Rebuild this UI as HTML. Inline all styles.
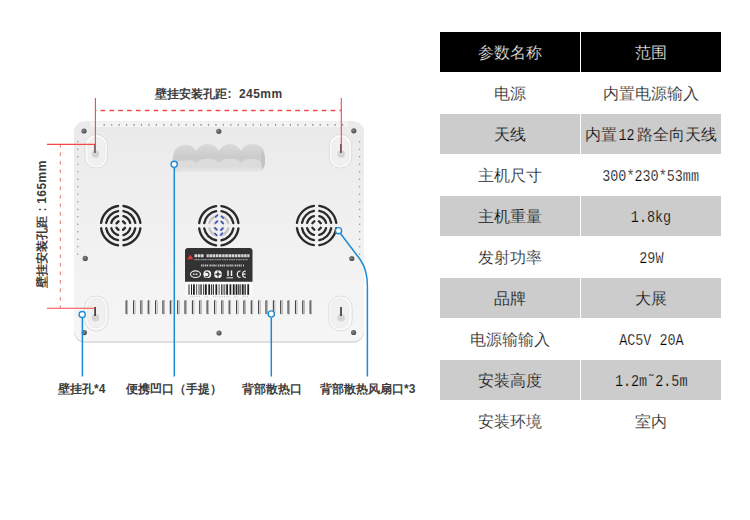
<!DOCTYPE html>
<html><head><meta charset="utf-8">
<style>
html,body{margin:0;padding:0;background:#fff;width:750px;height:520px;overflow:hidden;position:relative}
*{box-sizing:border-box}
.tb{position:absolute;left:440px;top:32px;width:281px}
.r{position:absolute;left:0;width:281px;height:40px}
.c{position:absolute;top:0;height:40px;width:140px;line-height:42px;-webkit-text-stroke:0.25px #fff;text-align:center;font-family:"Liberation Sans",sans-serif;font-size:16px;font-weight:300;color:#000;white-space:nowrap}
.c1{left:0}.c2{left:141px}
.h .c{background:#000;color:#fff;-webkit-text-stroke:0.25px #000}
.g .c{background:#cccccc;-webkit-text-stroke:0.25px #ccc}
.m{font-family:"Liberation Mono",monospace;display:inline-block;transform:scaleX(.84);transform-origin:50% 50%}
.lbl{position:absolute;font-family:"Liberation Sans",sans-serif;font-size:12px;font-weight:bold;color:#3c3c3c;white-space:nowrap;line-height:14px}
svg{position:absolute;left:0;top:0}
</style></head><body>
<svg width="420" height="520" viewBox="0 0 420 520">
<defs>
<linearGradient id="bd" x1="0" y1="0" x2="0" y2="1">
<stop offset="0" stop-color="#eaeaea"/><stop offset="0.45" stop-color="#f0f0f0"/><stop offset="1" stop-color="#f6f6f6"/>
</linearGradient>
<linearGradient id="hd" x1="0" y1="0" x2="0" y2="1">
<stop offset="0" stop-color="#d9d9d9"/><stop offset="0.5" stop-color="#cbcbcb"/><stop offset="1" stop-color="#d6d6d6"/>
</linearGradient>
<radialGradient id="sc" cx="0.4" cy="0.4" r="0.6">
<stop offset="0" stop-color="#888"/><stop offset="1" stop-color="#4a4a4a"/>
</radialGradient>
</defs>
<!-- device -->
<rect x="74" y="121.5" width="290" height="221.2" rx="11" fill="#d6d6d6"/>
<rect x="74" y="121.5" width="290" height="219.8" rx="11" fill="url(#bd)"/>
<!-- handle -->
<path d="M177 171.3 Q172.5 171.3 172.7 165 L172.8 158 Q173 150 179 146.5 Q185 143.5 191 146 Q194.5 148 196.2 151 Q200 144 207.5 144 Q215 144 219 151 Q223 144 230 144 Q237 144 241 151 Q245 144 252 144 Q260 144 263.5 150 Q265.2 154 265 162 Q265 171.3 258 171.3 Z" fill="url(#hd)"/>
<path d="M179 171 Q175 171 175.5 166 Q178 160 185 161 Q191 158 196 163 Q201 158 207.5 159 Q214 158 219 163 Q224 158 230 159 Q237 158 241 163 Q246 158 252 159 Q259 159 262 164 Q263 171 257 171 Z" fill="#dcdcdc"/>
<path d="M181 171.2 Q177 171 177 169 Q190 167 220 168 Q250 167 262 168.5 Q262 171.2 256 171.2 Z" fill="#e2e2e2"/>
<path d="M262 150 Q265.5 155 265 162 Q264.5 168 262 169 Q260 160 262 150 Z" fill="#bdbdbd" opacity=".7"/>
<!-- holes -->
<g fill="#fafafa" stroke="#d9d9d9" stroke-width="0.9">
<rect x="85" y="134.4" width="22.4" height="33.6" rx="11"/>
<rect x="329.3" y="134.4" width="22.4" height="33.6" rx="11"/>
<rect x="84.6" y="296" width="23.4" height="35" rx="11.5"/>
<rect x="328.8" y="296" width="23.4" height="35" rx="11.5"/>
</g>
<g fill="#f0f0f0" stroke="#e6e6e6" stroke-width="0.7">
<rect x="88" y="137.7" width="17" height="27.8" rx="8.5"/>
<rect x="332" y="137.7" width="17" height="27.8" rx="8.5"/>
<rect x="87.5" y="298.5" width="17.5" height="29.5" rx="8.7"/>
<rect x="331.3" y="298.5" width="17.5" height="29.5" rx="8.7"/>
</g>
<g fill="#d4d4d4">
<circle cx="95.5" cy="154" r="3.8"/><circle cx="341.1" cy="154" r="3.8"/>
<circle cx="95.5" cy="317.7" r="3.8"/><circle cx="341.1" cy="317.7" r="3.8"/>
</g>
<g fill="#333">
<rect x="94.3" y="144" width="1.6" height="9"/><rect x="340.2" y="144" width="1.6" height="9"/>
<rect x="94.3" y="307" width="1.6" height="9"/><rect x="340.2" y="307" width="1.6" height="9"/>
</g>
<!-- screws -->
<g fill="url(#sc)">
<circle cx="84" cy="131" r="2.6"/><circle cx="353.8" cy="130.8" r="2.6"/>
<circle cx="218.8" cy="131.3" r="2.6"/>
<circle cx="85.2" cy="258.4" r="2.6"/><circle cx="351.8" cy="258.5" r="2.6"/>
<circle cx="84.3" cy="332.6" r="2.6"/><circle cx="353.6" cy="332.5" r="2.6"/>
<circle cx="219" cy="333" r="2.6"/>
</g>
<path d="M90 121.5 H348 V127 H90 Z" fill="#f5f5f5" opacity=".8"/>
<g fill="#9a9a9a"><rect x="103.65" y="123.8" width="1.1" height="2.2" rx="0.5"/><rect x="111.10" y="123.8" width="1.1" height="2.2" rx="0.5"/><rect x="118.55" y="123.8" width="1.1" height="2.2" rx="0.5"/><rect x="126.00" y="123.8" width="1.1" height="2.2" rx="0.5"/><rect x="133.45" y="123.8" width="1.1" height="2.2" rx="0.5"/><rect x="140.90" y="123.8" width="1.1" height="2.2" rx="0.5"/><rect x="148.35" y="123.8" width="1.1" height="2.2" rx="0.5"/><rect x="155.80" y="123.8" width="1.1" height="2.2" rx="0.5"/><rect x="163.25" y="123.8" width="1.1" height="2.2" rx="0.5"/><rect x="170.70" y="123.8" width="1.1" height="2.2" rx="0.5"/><rect x="178.15" y="123.8" width="1.1" height="2.2" rx="0.5"/><rect x="185.60" y="123.8" width="1.1" height="2.2" rx="0.5"/><rect x="193.05" y="123.8" width="1.1" height="2.2" rx="0.5"/><rect x="200.50" y="123.8" width="1.1" height="2.2" rx="0.5"/><rect x="207.95" y="123.8" width="1.1" height="2.2" rx="0.5"/><rect x="215.40" y="123.8" width="1.1" height="2.2" rx="0.5"/><rect x="222.85" y="123.8" width="1.1" height="2.2" rx="0.5"/><rect x="230.30" y="123.8" width="1.1" height="2.2" rx="0.5"/><rect x="237.75" y="123.8" width="1.1" height="2.2" rx="0.5"/><rect x="245.20" y="123.8" width="1.1" height="2.2" rx="0.5"/><rect x="252.65" y="123.8" width="1.1" height="2.2" rx="0.5"/><rect x="260.10" y="123.8" width="1.1" height="2.2" rx="0.5"/><rect x="267.55" y="123.8" width="1.1" height="2.2" rx="0.5"/><rect x="275.00" y="123.8" width="1.1" height="2.2" rx="0.5"/><rect x="282.45" y="123.8" width="1.1" height="2.2" rx="0.5"/><rect x="289.90" y="123.8" width="1.1" height="2.2" rx="0.5"/><rect x="297.35" y="123.8" width="1.1" height="2.2" rx="0.5"/><rect x="304.80" y="123.8" width="1.1" height="2.2" rx="0.5"/><rect x="312.25" y="123.8" width="1.1" height="2.2" rx="0.5"/><rect x="319.70" y="123.8" width="1.1" height="2.2" rx="0.5"/><rect x="327.15" y="123.8" width="1.1" height="2.2" rx="0.5"/><rect x="334.60" y="123.8" width="1.1" height="2.2" rx="0.5"/><rect x="342.05" y="123.8" width="1.1" height="2.2" rx="0.5"/><circle cx="77.8" cy="141.70" r="0.8"/><circle cx="359.6" cy="141.70" r="0.8"/><circle cx="77.8" cy="149.20" r="0.8"/><circle cx="359.6" cy="149.20" r="0.8"/><circle cx="77.8" cy="156.70" r="0.8"/><circle cx="359.6" cy="156.70" r="0.8"/><circle cx="77.8" cy="164.20" r="0.8"/><circle cx="359.6" cy="164.20" r="0.8"/><circle cx="77.8" cy="171.70" r="0.8"/><circle cx="359.6" cy="171.70" r="0.8"/><circle cx="77.8" cy="179.20" r="0.8"/><circle cx="359.6" cy="179.20" r="0.8"/><circle cx="77.8" cy="186.70" r="0.8"/><circle cx="359.6" cy="186.70" r="0.8"/><circle cx="77.8" cy="194.20" r="0.8"/><circle cx="359.6" cy="194.20" r="0.8"/><circle cx="77.8" cy="201.70" r="0.8"/><circle cx="359.6" cy="201.70" r="0.8"/><circle cx="77.8" cy="209.20" r="0.8"/><circle cx="359.6" cy="209.20" r="0.8"/><circle cx="77.8" cy="216.70" r="0.8"/><circle cx="359.6" cy="216.70" r="0.8"/><circle cx="77.8" cy="224.20" r="0.8"/><circle cx="359.6" cy="224.20" r="0.8"/><circle cx="77.8" cy="231.70" r="0.8"/><circle cx="359.6" cy="231.70" r="0.8"/><circle cx="77.8" cy="239.20" r="0.8"/><circle cx="359.6" cy="239.20" r="0.8"/><circle cx="77.8" cy="246.70" r="0.8"/><circle cx="359.6" cy="246.70" r="0.8"/><circle cx="77.8" cy="254.20" r="0.8"/><circle cx="359.6" cy="254.20" r="0.8"/></g>
<g fill="none" stroke-width="2.35" stroke-linecap="round"><path d="M118.05 205.98 A19.8 19.8 0 0 0 101.13 222.90 M101.13 228.30 A19.8 19.8 0 0 0 118.05 245.22 M123.45 245.22 A19.8 19.8 0 0 0 140.37 228.30 M140.37 222.90 A19.8 19.8 0 0 0 123.45 205.98 " stroke="#2a2a2a"/><path d="M118.05 211.05 A14.8 14.8 0 0 0 106.20 222.90 M106.20 228.30 A14.8 14.8 0 0 0 118.05 240.15 M123.45 240.15 A14.8 14.8 0 0 0 135.30 228.30 M135.30 222.90 A14.8 14.8 0 0 0 123.45 211.05 " stroke="#2a2a2a"/><path d="M118.05 216.18 A9.8 9.8 0 0 0 111.33 222.90 M111.33 228.30 A9.8 9.8 0 0 0 118.05 235.02 M123.45 235.02 A9.8 9.8 0 0 0 130.17 228.30 M130.17 222.90 A9.8 9.8 0 0 0 123.45 216.18 " stroke="#2a2a2a"/><path d="M116.51 223.35 L118.50 221.36 M116.51 227.85 L118.50 229.84 M124.99 227.85 L123.00 229.84 M124.99 223.35 L123.00 221.36 " stroke="#2a2a2a"/></g><g fill="none" stroke-width="2.35" stroke-linecap="round"><path d="M216.10 206.08 A19.8 19.8 0 0 0 199.18 223.00 M199.18 228.40 A19.8 19.8 0 0 0 216.10 245.32 M221.50 245.32 A19.8 19.8 0 0 0 238.42 228.40 M238.42 223.00 A19.8 19.8 0 0 0 221.50 206.08 " stroke="#2a2a2a"/><path d="M216.10 211.15 A14.8 14.8 0 0 0 204.25 223.00 M204.25 228.40 A14.8 14.8 0 0 0 216.10 240.25 M221.50 240.25 A14.8 14.8 0 0 0 233.35 228.40 M233.35 223.00 A14.8 14.8 0 0 0 221.50 211.15 " stroke="#2a2a2a"/><path d="M216.10 216.28 A9.8 9.8 0 0 0 209.38 223.00 M209.38 228.40 A9.8 9.8 0 0 0 216.10 235.12 M221.50 235.12 A9.8 9.8 0 0 0 228.22 228.40 M228.22 223.00 A9.8 9.8 0 0 0 221.50 216.28 " stroke="#c4c4c4"/><path d="M214.56 223.45 L216.55 221.46 M214.56 227.95 L216.55 229.94 M223.04 227.95 L221.05 229.94 M223.04 223.45 L221.05 221.46 " stroke="#b8b8c8"/></g><g fill="none" stroke-width="2.35" stroke-linecap="round"><path d="M313.90 205.88 A19.8 19.8 0 0 0 296.98 222.80 M296.98 228.20 A19.8 19.8 0 0 0 313.90 245.12 M319.30 245.12 A19.8 19.8 0 0 0 336.22 228.20 M336.22 222.80 A19.8 19.8 0 0 0 319.30 205.88 " stroke="#2a2a2a"/><path d="M313.90 210.95 A14.8 14.8 0 0 0 302.05 222.80 M302.05 228.20 A14.8 14.8 0 0 0 313.90 240.05 M319.30 240.05 A14.8 14.8 0 0 0 331.15 228.20 M331.15 222.80 A14.8 14.8 0 0 0 319.30 210.95 " stroke="#2a2a2a"/><path d="M313.90 216.08 A9.8 9.8 0 0 0 307.18 222.80 M307.18 228.20 A9.8 9.8 0 0 0 313.90 234.92 M319.30 234.92 A9.8 9.8 0 0 0 326.02 228.20 M326.02 222.80 A9.8 9.8 0 0 0 319.30 216.08 " stroke="#2a2a2a"/><path d="M312.36 223.25 L314.35 221.26 M312.36 227.75 L314.35 229.74 M320.84 227.75 L318.85 229.74 M320.84 223.25 L318.85 221.26 " stroke="#2a2a2a"/></g><g stroke="#4157b8" stroke-width="1.7" stroke-linecap="round"><path d="M215.70 216.80 L217.50 215.00"/><path d="M221.50 216.40 L223.30 218.20"/><path d="M215.70 223.00 L217.50 221.20"/><path d="M221.50 221.70 L223.30 223.50"/><path d="M215.00 227.90 L216.80 229.70"/><path d="M221.00 230.20 L222.80 228.40"/><path d="M215.00 233.50 L216.80 235.30"/><path d="M220.50 235.00 L222.30 233.20"/></g>
<!-- label -->
<rect x="185" y="248" width="67.5" height="49" rx="3" fill="#fbfbfb"/>
<path d="M185 281.8 V251 Q185 248 188 248 H249.5 Q252.5 248 252.5 251 V281.8 Z" fill="#333"/>
<path d="M187.2 259.3 l3.1 -4.6 l3.1 4.6 z" fill="#e53935"/>
<path d="M194.5 255.7 H249.5" stroke="#e8e8e8" stroke-width="3" stroke-dasharray="2.6 .6 2.8 .5 2.6 3 2.2 .6 2.6 .5 2.8 .6 2.6 .5 2.6 .7 2.4 .5 2.6 .6 2.6 .5 2.8 .6 2.6 .5 2.6 .6 2.4 .5 2.6 .6 2.6" opacity=".9"/>
<path d="M194.5 259.7 H248" stroke="#bbb" stroke-width="1.3" stroke-dasharray="1.2 .5 1 .5 1.3 .5 1 .9" opacity=".8"/>
<path d="M201 265.4 H244" stroke="#d8d8d8" stroke-width="2" stroke-dasharray="1.5 .6 1.2 .6 1.6 .5 1.2 1.2" opacity=".85"/>
<ellipse cx="195.5" cy="274.2" rx="5" ry="3.3" fill="none" stroke="#eee" stroke-width="1.1"/>
<path d="M193 274.2 h5" stroke="#ddd" stroke-width="1.6" stroke-dasharray="1 .5"/>
<circle cx="207.3" cy="274.2" r="3.9" fill="#f2f2f2"/>
<path d="M205.5 272.5 a2.3 2.3 0 1 1 -0.2 3.8" fill="none" stroke="#333" stroke-width="1.2"/>
<circle cx="218" cy="274.2" r="3.9" fill="#f2f2f2"/>
<circle cx="218" cy="274.2" r="1.6" fill="#333"/>
<path d="M218 270.3 v7.8 M214.1 274.2 h7.8" stroke="#333" stroke-width=".7"/>
<path d="M228 270.5 v5.5 M231.5 270.5 v5.5" stroke="#f0f0f0" stroke-width="1.5"/>
<path d="M226.5 277.8 h6.5" stroke="#f0f0f0" stroke-width="1"/>
<path d="M240.5 271 a3.2 3.2 0 1 0 0 6.4 M245.8 271 a3.2 3.2 0 1 0 0 6.4 M243 274.2 h2.6" fill="none" stroke="#f0f0f0" stroke-width="1.2"/>
<path d="M190 296.3 H248" stroke="#777" stroke-width="0.9" stroke-dasharray="1 1.2 1 1.2 1 1.2 1 1.2 1 5 1 1.2 1 5 1 1.2 1 1.2 1 1.2" opacity=".6"/>
<g fill="#222"><rect x="188.50" y="284.3" width="1" height="10.5"/><rect x="191.00" y="284.3" width="1" height="10.5"/><rect x="193.00" y="284.3" width="1.8" height="10.5"/><rect x="196.30" y="284.3" width="0.8" height="10.5"/><rect x="198.60" y="284.3" width="0.8" height="10.5"/><rect x="200.40" y="284.3" width="1.3" height="10.5"/><rect x="203.20" y="284.3" width="1" height="10.5"/><rect x="205.00" y="284.3" width="1.8" height="10.5"/><rect x="208.30" y="284.3" width="1.8" height="10.5"/><rect x="211.10" y="284.3" width="1" height="10.5"/><rect x="212.90" y="284.3" width="1" height="10.5"/><rect x="215.40" y="284.3" width="1.8" height="10.5"/><rect x="218.70" y="284.3" width="0.8" height="10.5"/><rect x="221.00" y="284.3" width="0.8" height="10.5"/><rect x="222.60" y="284.3" width="0.8" height="10.5"/><rect x="224.40" y="284.3" width="0.8" height="10.5"/><rect x="226.20" y="284.3" width="1.8" height="10.5"/><rect x="229.50" y="284.3" width="1.8" height="10.5"/><rect x="232.80" y="284.3" width="1.8" height="10.5"/><rect x="235.60" y="284.3" width="1.8" height="10.5"/><rect x="238.20" y="284.3" width="1.3" height="10.5"/><rect x="240.30" y="284.3" width="0.8" height="10.5"/><rect x="241.90" y="284.3" width="1.8" height="10.5"/><rect x="244.50" y="284.3" width="1.3" height="10.5"/><rect x="247.30" y="284.3" width="1.8" height="10.5"/></g>
<g><rect x="125.70" y="300.2" width="2.3" height="14" rx="0.6" fill="#8e8e8e"/><rect x="126.50" y="300.8" width="1" height="12.8" fill="#e2e2e2"/><rect x="125.70" y="300.6" width="0.9" height="13.2" fill="#3a3a3a"/><rect x="133.06" y="300.2" width="2.3" height="14" rx="0.6" fill="#8e8e8e"/><rect x="133.86" y="300.8" width="1" height="12.8" fill="#e2e2e2"/><rect x="133.06" y="300.6" width="0.9" height="13.2" fill="#3a3a3a"/><rect x="140.42" y="300.2" width="2.3" height="14" rx="0.6" fill="#8e8e8e"/><rect x="141.22" y="300.8" width="1" height="12.8" fill="#e2e2e2"/><rect x="140.42" y="300.6" width="0.9" height="13.2" fill="#3a3a3a"/><rect x="147.78" y="300.2" width="2.3" height="14" rx="0.6" fill="#8e8e8e"/><rect x="148.58" y="300.8" width="1" height="12.8" fill="#e2e2e2"/><rect x="147.78" y="300.6" width="0.9" height="13.2" fill="#3a3a3a"/><rect x="155.14" y="300.2" width="2.3" height="14" rx="0.6" fill="#8e8e8e"/><rect x="155.94" y="300.8" width="1" height="12.8" fill="#e2e2e2"/><rect x="155.14" y="300.6" width="0.9" height="13.2" fill="#3a3a3a"/><rect x="162.50" y="300.2" width="2.3" height="14" rx="0.6" fill="#8e8e8e"/><rect x="163.30" y="300.8" width="1" height="12.8" fill="#e2e2e2"/><rect x="162.50" y="300.6" width="0.9" height="13.2" fill="#3a3a3a"/><rect x="169.86" y="300.2" width="2.3" height="14" rx="0.6" fill="#8e8e8e"/><rect x="170.66" y="300.8" width="1" height="12.8" fill="#e2e2e2"/><rect x="169.86" y="300.6" width="0.9" height="13.2" fill="#3a3a3a"/><rect x="177.22" y="300.2" width="2.3" height="14" rx="0.6" fill="#8e8e8e"/><rect x="178.02" y="300.8" width="1" height="12.8" fill="#e2e2e2"/><rect x="177.22" y="300.6" width="0.9" height="13.2" fill="#3a3a3a"/><rect x="184.58" y="300.2" width="2.3" height="14" rx="0.6" fill="#8e8e8e"/><rect x="185.38" y="300.8" width="1" height="12.8" fill="#e2e2e2"/><rect x="184.58" y="300.6" width="0.9" height="13.2" fill="#3a3a3a"/><rect x="191.94" y="300.2" width="2.3" height="14" rx="0.6" fill="#8e8e8e"/><rect x="192.74" y="300.8" width="1" height="12.8" fill="#e2e2e2"/><rect x="191.94" y="300.6" width="0.9" height="13.2" fill="#3a3a3a"/><rect x="199.30" y="300.2" width="2.3" height="14" rx="0.6" fill="#8e8e8e"/><rect x="200.10" y="300.8" width="1" height="12.8" fill="#e2e2e2"/><rect x="199.30" y="300.6" width="0.9" height="13.2" fill="#3a3a3a"/><rect x="206.66" y="300.2" width="2.3" height="14" rx="0.6" fill="#8e8e8e"/><rect x="207.46" y="300.8" width="1" height="12.8" fill="#e2e2e2"/><rect x="206.66" y="300.6" width="0.9" height="13.2" fill="#3a3a3a"/><rect x="214.02" y="300.2" width="2.3" height="14" rx="0.6" fill="#8e8e8e"/><rect x="214.82" y="300.8" width="1" height="12.8" fill="#e2e2e2"/><rect x="214.02" y="300.6" width="0.9" height="13.2" fill="#3a3a3a"/><rect x="221.38" y="300.2" width="2.3" height="14" rx="0.6" fill="#8e8e8e"/><rect x="222.18" y="300.8" width="1" height="12.8" fill="#e2e2e2"/><rect x="221.38" y="300.6" width="0.9" height="13.2" fill="#3a3a3a"/><rect x="228.74" y="300.2" width="2.3" height="14" rx="0.6" fill="#8e8e8e"/><rect x="229.54" y="300.8" width="1" height="12.8" fill="#e2e2e2"/><rect x="228.74" y="300.6" width="0.9" height="13.2" fill="#3a3a3a"/><rect x="236.10" y="300.2" width="2.3" height="14" rx="0.6" fill="#8e8e8e"/><rect x="236.90" y="300.8" width="1" height="12.8" fill="#e2e2e2"/><rect x="236.10" y="300.6" width="0.9" height="13.2" fill="#3a3a3a"/><rect x="243.46" y="300.2" width="2.3" height="14" rx="0.6" fill="#8e8e8e"/><rect x="244.26" y="300.8" width="1" height="12.8" fill="#e2e2e2"/><rect x="243.46" y="300.6" width="0.9" height="13.2" fill="#3a3a3a"/><rect x="250.82" y="300.2" width="2.3" height="14" rx="0.6" fill="#8e8e8e"/><rect x="251.62" y="300.8" width="1" height="12.8" fill="#e2e2e2"/><rect x="250.82" y="300.6" width="0.9" height="13.2" fill="#3a3a3a"/><rect x="258.18" y="300.2" width="2.3" height="14" rx="0.6" fill="#8e8e8e"/><rect x="258.98" y="300.8" width="1" height="12.8" fill="#e2e2e2"/><rect x="258.18" y="300.6" width="0.9" height="13.2" fill="#3a3a3a"/><rect x="265.54" y="300.2" width="2.3" height="14" rx="0.6" fill="#8e8e8e"/><rect x="266.34" y="300.8" width="1" height="12.8" fill="#e2e2e2"/><rect x="265.54" y="300.6" width="0.9" height="13.2" fill="#3a3a3a"/><rect x="272.90" y="300.2" width="2.3" height="14" rx="0.6" fill="#8e8e8e"/><rect x="273.70" y="300.8" width="1" height="12.8" fill="#e2e2e2"/><rect x="272.90" y="300.6" width="0.9" height="13.2" fill="#3a3a3a"/><rect x="280.26" y="300.2" width="2.3" height="14" rx="0.6" fill="#8e8e8e"/><rect x="281.06" y="300.8" width="1" height="12.8" fill="#e2e2e2"/><rect x="280.26" y="300.6" width="0.9" height="13.2" fill="#3a3a3a"/><rect x="287.62" y="300.2" width="2.3" height="14" rx="0.6" fill="#8e8e8e"/><rect x="288.42" y="300.8" width="1" height="12.8" fill="#e2e2e2"/><rect x="287.62" y="300.6" width="0.9" height="13.2" fill="#3a3a3a"/><rect x="294.98" y="300.2" width="2.3" height="14" rx="0.6" fill="#8e8e8e"/><rect x="295.78" y="300.8" width="1" height="12.8" fill="#e2e2e2"/><rect x="294.98" y="300.6" width="0.9" height="13.2" fill="#3a3a3a"/><rect x="302.34" y="300.2" width="2.3" height="14" rx="0.6" fill="#8e8e8e"/><rect x="303.14" y="300.8" width="1" height="12.8" fill="#e2e2e2"/><rect x="302.34" y="300.6" width="0.9" height="13.2" fill="#3a3a3a"/><rect x="309.70" y="300.2" width="2.3" height="14" rx="0.6" fill="#8e8e8e"/><rect x="310.50" y="300.8" width="1" height="12.8" fill="#e2e2e2"/><rect x="309.70" y="300.6" width="0.9" height="13.2" fill="#3a3a3a"/></g>
<!-- red dims -->
<g stroke="#f44848" fill="none">
<path d="M95.4 98 V153" stroke-width="1.1"/>
<path d="M341.3 98 V153" stroke-width="1.1"/>
<path d="M96 110.5 H341" stroke-width="1.3" stroke-dasharray="4.6 4.25" stroke-dashoffset="-4.6"/>
<path d="M47 144.4 H95" stroke-width="1.1"/>
<path d="M47 308.3 H95" stroke-width="1.1"/>
<path d="M60.3 144 V308" stroke-width="1" stroke-dasharray="3.6 4.9" stroke-opacity=".8"/>
</g>
<!-- blue callouts -->
<g stroke="#1c8ad6" stroke-width="1.5" fill="none">
<path d="M82.4 318 V376.5"/>
<path d="M174.3 168 V376.5"/>
<path d="M271.3 317.5 V376.5"/>
<path d="M340.5 233.5 L360.5 260 Q367.4 270 367.4 286 V376.5"/>
</g>
<g stroke="#1c8ad6" stroke-width="1.4" fill="#fff">
<circle cx="82.2" cy="314.6" r="3.1"/>
<circle cx="174.2" cy="164.3" r="3.1"/>
<circle cx="271.3" cy="314" r="3.1"/>
<circle cx="338.5" cy="230.7" r="3.1"/>
</g>
</svg>
<div class="lbl" style="left:155px;top:87px">壁挂安装孔距<span style="display:inline-block;width:12px;padding-left:0.5px">:</span><span style="letter-spacing:.45px">245mm</span></div>
<div class="lbl" style="left:-22px;top:217px;transform:rotate(-90deg);transform-origin:50% 50%;width:128px;text-align:center">壁挂安装孔距<span style="display:inline-block;width:12px;padding-left:0.5px">:</span><span style="letter-spacing:.45px">165mm</span></div>
<div class="lbl" style="left:58px;top:382px">壁挂孔*4</div>
<div class="lbl" style="left:126px;top:382px">便携凹口（手提）</div>
<div class="lbl" style="left:242px;top:382px">背部散热口</div>
<div class="lbl" style="left:320px;top:382px">背部散热风扇口*3</div>

<div class="tb">
<div class="r h" style="top:0"><div class="c c1">参数名称</div><div class="c c2">范围</div></div>
<div class="r" style="top:41px"><div class="c c1">电源</div><div class="c c2">内置电源输入</div></div>
<div class="r g" style="top:82px"><div class="c c1">天线</div><div class="c c2">内置<span class="m">12</span>路全向天线</div></div>
<div class="r" style="top:123px"><div class="c c1">主机尺寸</div><div class="c c2"><span class="m">300*230*53mm</span></div></div>
<div class="r g" style="top:164px"><div class="c c1">主机重量</div><div class="c c2"><span class="m">1.8kg</span></div></div>
<div class="r" style="top:205px"><div class="c c1">发射功率</div><div class="c c2"><span class="m">29W</span></div></div>
<div class="r g" style="top:246px"><div class="c c1">品牌</div><div class="c c2">大展</div></div>
<div class="r" style="top:287px"><div class="c c1">电源输输入</div><div class="c c2"><span class="m">AC5V 20A</span></div></div>
<div class="r g" style="top:328px"><div class="c c1">安装高度</div><div class="c c2"><span class="m">1.2m&#732;2.5m</span></div></div>
<div class="r" style="top:369px"><div class="c c1">安装环境</div><div class="c c2">室内</div></div>
</div>
</body></html>
